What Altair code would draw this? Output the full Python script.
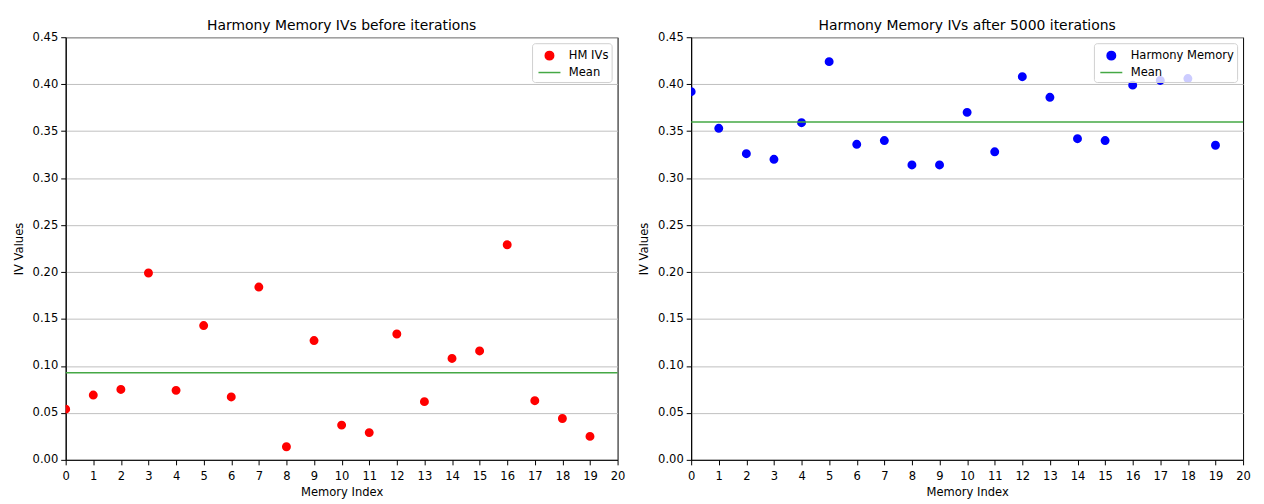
import altair as alt
import pandas as pd

memory_index = list(range(20))
before_iv = [0.054, 0.069, 0.075, 0.199, 0.074, 0.143, 0.067, 0.184, 0.014, 0.127,
             0.037, 0.029, 0.134, 0.062, 0.108, 0.116, 0.229, 0.063, 0.044, 0.025]
after_iv = [0.392, 0.353, 0.326, 0.320, 0.359, 0.424, 0.336, 0.340, 0.314, 0.314,
            0.370, 0.328, 0.408, 0.386, 0.342, 0.340, 0.399, 0.404, 0.406, 0.335]
x_ticks = list(range(21))
y_ticks = [0.0, 0.05, 0.1, 0.15, 0.2, 0.25, 0.3, 0.35, 0.4, 0.45]

GREEN = "#45a845"
FONT = "DejaVu Sans"
FS = 11.6
CIRCLE = "M-0.5,0a0.5,0.5 0 1,0 1,0a0.5,0.5 0 1,0 -1,0Z"
LINE = "M-1.3,0H1.3"


def panel(values, title, label, color):
    df = pd.DataFrame({"idx": memory_index, "iv": values, "series": label})
    domain = [label, "Mean"]
    legend = alt.Legend(
        title=None, orient="top-right", offset=6,
        fillColor="rgba(255,255,255,0.8)", strokeColor="#d0d0d0",
        cornerRadius=3, padding=3, labelFontSize=FS, labelFont=FONT,
        labelColor="black", symbolSize=289, rowPadding=0, labelOffset=10,
        symbolStrokeWidth=1.5, symbolOffset=5,
    )
    fill_scale = alt.Scale(domain=domain, range=[color, GREEN])
    stroke_scale = alt.Scale(domain=domain, range=[color, GREEN])
    shape_scale = alt.Scale(domain=domain, range=[CIRCLE, LINE])
    x = alt.X("idx:Q", scale=alt.Scale(domain=[0, 20], nice=False),
              axis=alt.Axis(values=x_ticks, format="d", title="Memory Index",
                            grid=False, titlePadding=4, labelFlush=False,
                            labelOverlap=False, labelPadding=6))
    y_axis = alt.Axis(values=y_ticks, format=".2f", title="IV Values", grid=True,
                      titlePadding=8, labelFlush=False, labelOverlap=False)
    y_scale = alt.Scale(domain=[0, 0.45], nice=False)
    pts = alt.Chart(df).mark_point(filled=True, size=196, opacity=1, clip=True).encode(
        x=x,
        y=alt.Y("iv:Q", scale=y_scale, axis=y_axis),
        fill=alt.Fill("series:N", scale=fill_scale, legend=legend),
        stroke=alt.Stroke("series:N", scale=stroke_scale, legend=legend),
        shape=alt.Shape("series:N", scale=shape_scale, legend=legend),
    )
    mean = (alt.Chart(df)
            .transform_aggregate(m="mean(iv)")
            .transform_calculate(series='"Mean"')
            .mark_rule(strokeWidth=1.5)
            .encode(y=alt.Y("m:Q", scale=y_scale, axis=y_axis),
                    stroke=alt.Stroke("series:N", scale=stroke_scale, legend=legend)))
    return alt.layer(pts, mean).properties(
        width=555, height=425,
        title=alt.TitleParams(title, fontSize=14, fontWeight="normal", font=FONT,
                              anchor="middle", offset=-2, color="black"),
    )


chart = alt.hconcat(
    panel(before_iv, "Harmony Memory IVs before iterations", "HM IVs", "#ff0000"),
    panel(after_iv, "Harmony Memory IVs after 5000 iterations", "Harmony Memory", "#0000ff"),
    spacing=12,
).resolve_scale(
    fill="independent", stroke="independent", shape="independent",
    x="independent", y="independent",
).resolve_legend(
    fill="independent", stroke="independent", shape="independent",
).properties(
    padding={"top": 9, "left": 4, "right": 5, "bottom": 5},
).configure(font=FONT).configure_view(
    stroke="black", strokeWidth=1
).configure_axis(
    labelFont=FONT, titleFont=FONT, labelFontSize=FS, titleFontSize=FS,
    titleFontWeight="normal", labelColor="black", titleColor="black",
    domainColor="black", tickColor="black", tickSize=5, labelPadding=3,
    gridColor="#c0c0c0", gridWidth=1,
)

chart.save("out.html", embed_options={"renderer": "svg", "actions": False})
